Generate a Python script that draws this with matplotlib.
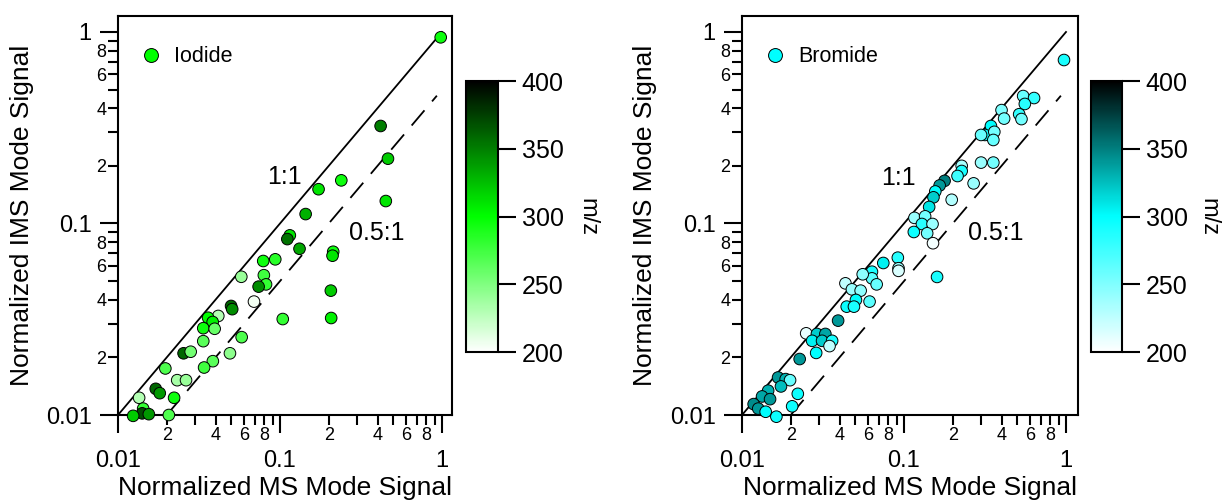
import numpy as np
import matplotlib
matplotlib.use("Agg")
import matplotlib.pyplot as plt
from matplotlib.colors import LinearSegmentedColormap
from matplotlib.lines import Line2D
from matplotlib.ticker import LogLocator, FuncFormatter, FixedLocator

plt.rcParams['font.family'] = ['Liberation Sans', 'DejaVu Sans']

# Iodide data (MS mode, IMS mode, m/z)
iod_ms = [0.982, 0.418, 0.464, 0.45, 0.239, 0.173, 0.144, 0.115, 0.111, 0.132,
          0.213, 0.211, 0.206, 0.207, 0.104, 0.0788, 0.0935, 0.0795, 0.082, 0.0738,
          0.0691, 0.0577, 0.0499, 0.0507, 0.0416, 0.036, 0.0384, 0.0336, 0.0395, 0.0336,
          0.058, 0.0491, 0.0385, 0.034, 0.0254, 0.0281, 0.0196, 0.0232, 0.0263, 0.0171,
          0.0181, 0.0222, 0.0135, 0.0143, 0.0141, 0.0155, 0.0124, 0.0206]
iod_ims = [0.938, 0.323, 0.218, 0.131, 0.168, 0.151, 0.112, 0.0867, 0.0829, 0.0738,
           0.0712, 0.0679, 0.0446, 0.0321, 0.0317, 0.0637, 0.065, 0.0537, 0.0481, 0.0468,
           0.0391, 0.0527, 0.0371, 0.0357, 0.0329, 0.0322, 0.0306, 0.0284, 0.0282, 0.0243,
           0.0255, 0.021, 0.0191, 0.0177, 0.021, 0.0214, 0.0175, 0.0152, 0.0152, 0.0137,
           0.013, 0.0123, 0.0123, 0.0108, 0.0102, 0.0101, 0.0099, 0.01]
iod_mz = [295, 350, 320, 310, 295, 310, 330, 310, 355, 335,
          295, 310, 320, 305, 280, 295, 285, 275, 280, 345,
          205, 240, 360, 345, 230, 300, 305, 295, 260, 265,
          270, 245, 265, 275, 360, 255, 270, 235, 240, 360,
          340, 295, 230, 280, 370, 340, 320, 270]

# Bromide data
bro_ms = [0.972, 0.544, 0.635, 0.557, 0.400, 0.415, 0.514, 0.531, 0.344, 0.316,
          0.299, 0.361, 0.356, 0.299, 0.356, 0.227, 0.227, 0.214, 0.269, 0.197,
          0.178, 0.166, 0.156, 0.152, 0.143, 0.116, 0.135, 0.129, 0.150, 0.115,
          0.139, 0.151, 0.160, 0.0916, 0.0925, 0.0925, 0.0745, 0.0634, 0.0634, 0.0678,
          0.0556, 0.0435, 0.0477, 0.054, 0.0505, 0.0613, 0.0443, 0.0491, 0.0392, 0.0249,
          0.029, 0.0327, 0.0271, 0.0312, 0.036, 0.0347, 0.0287, 0.0227, 0.0167, 0.0186,
          0.0198, 0.0174, 0.0221, 0.0145, 0.0133, 0.0149, 0.0118, 0.0126, 0.0204, 0.014,
          0.0163]
bro_ims = [0.714, 0.463, 0.452, 0.421, 0.391, 0.353, 0.372, 0.351, 0.323, 0.290,
           0.290, 0.301, 0.273, 0.208, 0.208, 0.200, 0.188, 0.177, 0.162, 0.133,
           0.167, 0.158, 0.147, 0.137, 0.122, 0.107, 0.109, 0.0994, 0.0994, 0.0903,
           0.0889, 0.0789, 0.0526, 0.0663, 0.0584, 0.0566, 0.0622, 0.056, 0.0517, 0.0481,
           0.0543, 0.0487, 0.0453, 0.0446, 0.0399, 0.0391, 0.0368, 0.0368, 0.0311, 0.0267,
           0.0265, 0.0265, 0.0244, 0.0244, 0.0244, 0.0229, 0.0211, 0.0196, 0.0157, 0.0154,
           0.0152, 0.0141, 0.0129, 0.0134, 0.0125, 0.0121, 0.0114, 0.0108, 0.0111, 0.0104,
           0.0098]
bro_mz = [290, 260, 280, 285, 250, 255, 280, 255, 300, 295,
          260, 255, 260, 240, 255, 235, 290, 275, 240, 230,
          350, 340, 300, 320, 310, 240, 255, 285, 240, 295,
          255, 205, 290, 285, 240, 215, 305, 290, 265, 260,
          245, 225, 240, 245, 300, 265, 295, 290, 340, 210,
          320, 335, 305, 320, 290, 225, 300, 340, 340, 330,
          260, 325, 295, 330, 335, 340, 345, 340, 295, 300,
          295]

W, H = 1232, 504
fig = plt.figure(figsize=(W / 100, H / 100), dpi=100)


def px_box(x0, x1, y0, y1):
    return [x0 / W, (H - y1) / H, (x1 - x0) / W, (y1 - y0) / H]


def minor_fmt(v, pos):
    m = int(round(v / 10 ** np.floor(np.log10(v) + 1e-9)))
    return str(m) if m in (2, 4, 6, 8) else ''


def major_fmt(v, pos):
    return '%g' % v


def panel(ax_box, cb_box, ms, ims, mz, color, label, xmax, t11, t05):
    cmap = LinearSegmentedColormap.from_list(label, ['white', color, 'black'])
    ax = fig.add_axes(px_box(*ax_box))
    ax.set_xscale('log')
    ax.set_yscale('log')
    ax.set_xlim(0.01, xmax)
    ax.set_ylim(0.01, 1.212)

    ref = np.array([0.01, 1.0])
    ax.plot(ref, ref, color='black', lw=1.3)
    half = np.array([0.02, 0.93])
    ax.plot(half, 0.5 * half, color='black', lw=1.3, dashes=(11, 6.5))

    sc = ax.scatter(ms, ims, c=mz, cmap=cmap, vmin=200, vmax=400, s=70,
                    edgecolors='black', linewidths=0.7, zorder=3, clip_on=False)

    ax.text(t11[0], t11[1], '1:1', fontsize=18, ha='center', va='center')
    ax.text(t05[0], t05[1], '0.5:1', fontsize=18, ha='center', va='center')

    h = Line2D([], [], ls='none', marker='o', markersize=10,
               markerfacecolor=color, markeredgecolor='black', markeredgewidth=0.7)
    ax.legend([h], [label], loc='upper left', bbox_to_anchor=(0.01, 0.973),
              frameon=False, fontsize=15.5, handlelength=1.0, handletextpad=0.55)

    for axis in (ax.xaxis, ax.yaxis):
        axis.set_major_locator(FixedLocator([0.01, 0.1, 1]))
        axis.set_major_formatter(FuncFormatter(major_fmt))
        axis.set_minor_locator(LogLocator(base=10, subs=np.arange(2, 10)))
        axis.set_minor_formatter(FuncFormatter(minor_fmt))
    ax.tick_params(which='major', direction='out', length=13, width=1.5, labelsize=17)
    ax.tick_params(which='minor', direction='out', length=7, width=1.5, labelsize=13)
    ax.tick_params(axis='x', which='major', pad=12)
    ax.tick_params(axis='x', which='minor', pad=2)
    ax.tick_params(axis='y', which='major', pad=6)
    ax.tick_params(axis='y', which='minor', pad=1.5)
    for sp in ax.spines.values():
        sp.set_linewidth(1.5)

    ax.set_xlabel('Normalized MS Mode Signal', fontsize=19)
    ax.set_ylabel('Normalized IMS Mode Signal', fontsize=19)
    ax.xaxis.set_label_coords(0.5, -0.152)
    ax.yaxis.set_label_coords(-0.252, 0.5)

    cax = fig.add_axes(px_box(*cb_box))
    cb = fig.colorbar(sc, cax=cax, ticks=[200, 250, 300, 350, 400])
    cb.outline.set_linewidth(1.5)
    cax.tick_params(direction='out', length=13, width=1.5, labelsize=18, pad=4)
    cax.set_ylabel('m/z', fontsize=17, rotation=270, va='center', ha='center')
    cax.yaxis.set_label_coords(3.8, 0.5)
    return ax


panel((118, 452, 16, 415), (466, 498, 81, 352), iod_ms, iod_ims, iod_mz,
      '#00ff00', 'Iodide', 1.153, (0.107, 0.175), (0.397, 0.089))
panel((742, 1078, 16, 415), (1091, 1122, 81, 352), bro_ms, bro_ims, bro_mz,
      '#00ffff', 'Bromide', 1.186, (0.0925, 0.173), (0.366, 0.089))

fig.savefig('out.png', dpi=100)
